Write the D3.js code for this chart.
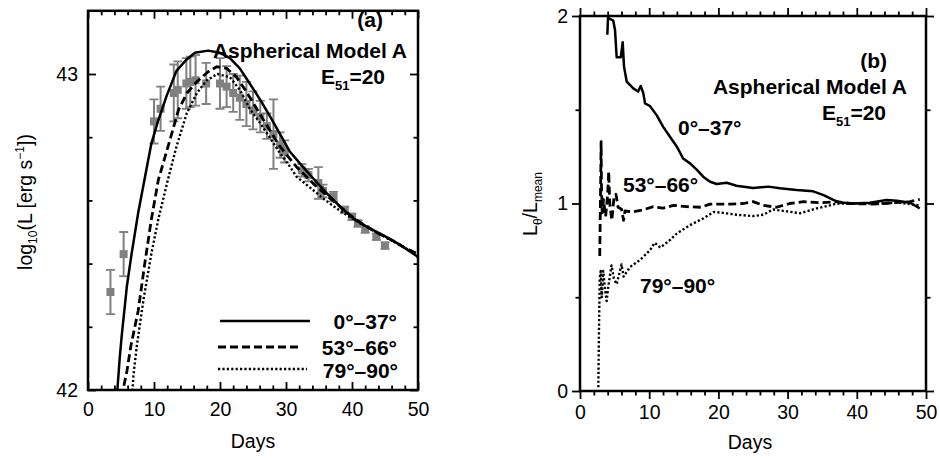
<!DOCTYPE html>
<html><head><meta charset="utf-8">
<script src="https://cdn.jsdelivr.net/npm/d3@7"></script>
<style>body{margin:0;background:#fff}</style>
</head><body><svg id="c" width="940" height="459"></svg>
<script>
// ---------- data ----------
const seriesNames = ["0°–37°", "53°–66°", "79°–90°"];
const xTickLabels = [0, 10, 20, 30, 40, 50];
const yTickLabelsA = [42, 43];
const yTickLabelsB = [0, 1, 2];

// observed light curve (days, log L, error)
const obsDay  = [3.4, 5.4, 10.0, 11.0, 13.0, 13.6, 14.9, 15.5, 16.3, 17.9, 20.0, 21.0, 22.0, 23.0, 24.0, 25.0, 26.1, 27.1, 28.1, 29.1, 29.8, 32.4, 33.4, 34.9, 35.6, 37.2, 38.9, 40.0, 40.9, 42.0, 43.7, 45.0];
const obsLogL = [42.31, 42.43, 42.85, 42.89, 42.94, 42.95, 42.97, 42.975, 42.98, 42.97, 42.97, 42.96, 42.94, 42.925, 42.905, 42.885, 42.865, 42.835, 42.81, 42.775, 42.755, 42.695, 42.68, 42.655, 42.63, 42.612, 42.57, 42.548, 42.527, 42.508, 42.485, 42.457];
const obsErr  = [0.07, 0.07, 0.07, 0.07, 0.09, 0.09, 0.08, 0.08, 0.08, 0.065, 0.08, 0.065, 0.06, 0.07, 0.07, 0.06, 0.05, 0.04, 0.11, 0.04, 0.035, 0.02, 0.02, 0.05, 0.02, 0.015, 0.01, 0.01, 0.01, 0.01, 0.01, 0.01];

// panel (a) model light curves [day, log L]
const lcPole = [[4.45,41.9],[4.45,42.0],[4.8,42.1],[5.1,42.17],[5.9,42.33],[6.6,42.43],[7.6,42.56],[8.6,42.67],[9.6,42.78],[10.6,42.85],[11.9,42.93],[13.4,43.01],[14.9,43.045],[16.2,43.067],[18.2,43.074],[20.0,43.067],[21.5,43.05],[23.0,43.018],[24.5,42.97],[26.1,42.918],[27.6,42.865],[29.1,42.81],[30.6,42.754],[32.1,42.717],[34.1,42.67],[36.2,42.622],[38.2,42.58],[40.2,42.543],[42.2,42.517],[44.7,42.49],[47.3,42.459],[49.8,42.424],[50,42.42]];
const lcMid  = [[5.3,41.9],[5.3,42.0],[5.9,42.06],[6.5,42.14],[7.6,42.25],[8.6,42.40],[9.6,42.54],[10.66,42.665],[12.4,42.79],[13.7,42.886],[15.0,42.94],[16.5,42.976],[18.2,43.007],[19.5,43.023],[21.0,43.018],[22.5,42.99],[24.0,42.944],[26.6,42.854],[29.1,42.77],[31.6,42.706],[34.1,42.654],[36.7,42.606],[38.5,42.575],[40.2,42.545],[42.0,42.52],[44.0,42.495],[46.0,42.475],[48.0,42.45],[50,42.43]];
const lcEq   = [[6.75,41.9],[6.75,42.0],[6.9,42.05],[7.4,42.14],[8.4,42.285],[9.65,42.437],[10.65,42.54],[12.1,42.665],[13.4,42.77],[14.95,42.875],[16.5,42.94],[18.0,42.98],[19.6,43.0],[21.5,42.99],[23.0,42.95],[24.5,42.89],[26.1,42.844],[27.5,42.8],[29.1,42.749],[30.5,42.71],[31.6,42.675],[34.1,42.633],[36.0,42.6],[38.0,42.57],[40.0,42.543],[42.0,42.518],[44.0,42.495],[46.0,42.473],[48.0,42.45],[50,42.43]];

// panel (b) ratio curves [day, L_theta/L_mean]
const ratioPole = [[3.95,1.90],[4.05,1.99],[4.8,1.976],[5.06,1.925],[5.3,1.78],[5.9,1.78],[6.17,1.86],[6.36,1.73],[6.75,1.65],[7.7,1.614],[8.4,1.597],[8.77,1.627],[9.15,1.588],[9.4,1.534],[10.1,1.52],[11.1,1.47],[12.0,1.41],[13.0,1.356],[14.0,1.303],[14.9,1.24],[15.9,1.214],[16.9,1.179],[17.8,1.143],[18.8,1.116],[19.75,1.104],[21.2,1.111],[22.6,1.095],[25.0,1.083],[27.2,1.09],[28.9,1.081],[31.3,1.072],[33.7,1.065],[35.2,1.045],[36.6,1.019],[37.6,1.005],[39.5,1.0],[41.9,1.004],[44.3,1.019],[45.8,1.015],[47.7,1.004],[49.1,0.974]];
const ratioMid  = [[2.85,0.72],[2.95,1.0],[3.05,1.33],[3.1,1.1],[3.2,0.95],[3.4,1.02],[3.7,0.93],[4.0,1.05],[4.15,1.17],[4.3,1.0],[4.6,0.91],[4.9,1.03],[5.2,1.05],[5.5,0.98],[6.0,0.97],[6.3,0.91],[6.5,0.96],[7.5,0.955],[9.0,0.965],[10.6,0.983],[12.0,0.975],[13.5,0.99],[15.4,0.983],[17.5,0.98],[18.8,0.997],[21.7,0.997],[23.6,1.0],[25.0,1.01],[26.5,0.99],[28.4,0.98],[30.3,1.0],[32.3,1.01],[34.7,1.004],[37.1,1.01],[39.0,1.0],[41.9,0.997],[44.0,1.0],[45.3,1.004],[47.7,1.01],[49.1,1.022]];
const ratioEq   = [[2.65,0.02],[2.75,0.35],[2.85,0.6],[3.0,0.64],[3.15,0.5],[3.35,0.64],[3.6,0.55],[3.85,0.48],[4.1,0.56],[4.55,0.67],[4.9,0.6],[5.3,0.57],[6.0,0.675],[6.3,0.61],[7.2,0.66],[8.7,0.70],[10.1,0.75],[10.8,0.79],[11.6,0.765],[13.0,0.805],[14.0,0.84],[15.9,0.885],[17.8,0.92],[19.3,0.955],[20.7,0.95],[22.6,0.94],[25.0,0.933],[26.5,0.94],[27.9,0.968],[29.9,0.958],[31.8,0.948],[34.2,0.974],[36.1,0.99],[37.1,1.0],[40.0,1.0],[43.0,1.0],[46.0,1.005],[49.1,0.99]];

// ---------- drawing ----------
const svg = d3.select("#c");
const FONT = "'Liberation Sans', Arial, Helvetica, sans-serif";
const styles = [
  {w: 2.5, dash: null},
  {w: 2.8, dash: "8,4"},
  {w: 2.4, dash: "2.2,2.2"}
];

const xA = d3.scaleLinear().domain([0, 50]).range([88, 418]);
const yA = d3.scaleLinear().domain([42, 43.2]).range([390, 10.8]);
const xB = d3.scaleLinear().domain([0, 50]).range([580, 926]);
const yB = d3.scaleLinear().domain([0, 2]).range([391, 16]);

const defs = svg.append("defs");
function clip(id, x, y) {
  defs.append("clipPath").attr("id", id).append("rect")
    .attr("x", x.range()[0]).attr("y", y.range()[1])
    .attr("width", x.range()[1] - x.range()[0]).attr("height", y.range()[0] - y.range()[1]);
}
clip("clipA", xA, yA); clip("clipB", xB, yB);

function styleAxis(g) {
  g.select(".domain").remove();
  g.selectAll("line").attr("stroke", "#000").attr("stroke-width", 1.8);
  g.selectAll("text").attr("font-family", FONT).attr("font-size", 19.5).attr("fill", "#000");
}

function axes(x, y, inward, yMajor, yMinor) {
  const s = inward ? -1 : 1;
  const xMinor = d3.range(0, 51, 2).filter(d => d % 10 !== 0);
  const yb = y.range()[0], yt = y.range()[1], xl = x.range()[0], xr = x.range()[1];
  svg.append("g").attr("transform", `translate(0,${yb})`)
    .call(d3.axisBottom(x).tickValues(xTickLabels).tickSize(8 * s).tickPadding(inward ? 12 : 6).tickFormat(d3.format("d")))
    .call(styleAxis);
  svg.append("g").attr("transform", `translate(0,${yb})`)
    .call(d3.axisBottom(x).tickValues(xMinor).tickSize(4.5 * s).tickFormat("")).call(styleAxis);
  svg.append("g").attr("transform", `translate(0,${yt})`)
    .call(d3.axisTop(x).tickValues(xTickLabels).tickSize(8 * s).tickFormat("")).call(styleAxis);
  svg.append("g").attr("transform", `translate(0,${yt})`)
    .call(d3.axisTop(x).tickValues(xMinor).tickSize(4.5 * s).tickFormat("")).call(styleAxis);
  svg.append("g").attr("transform", `translate(${xl},0)`)
    .call(d3.axisLeft(y).tickValues(yMajor).tickSize(8 * s).tickPadding(inward ? 10 : 4).tickFormat(d3.format("d")))
    .call(styleAxis);
  svg.append("g").attr("transform", `translate(${xl},0)`)
    .call(d3.axisLeft(y).tickValues(yMinor).tickSize(4.5 * s).tickFormat("")).call(styleAxis);
  svg.append("g").attr("transform", `translate(${xr},0)`)
    .call(d3.axisRight(y).tickValues(yMajor).tickSize(8 * s).tickFormat("")).call(styleAxis);
  svg.append("g").attr("transform", `translate(${xr},0)`)
    .call(d3.axisRight(y).tickValues(yMinor).tickSize(4.5 * s).tickFormat("")).call(styleAxis);
  svg.append("rect").attr("x", xl).attr("y", yt).attr("width", xr - xl).attr("height", yb - yt)
    .attr("fill", "none").attr("stroke", "#000").attr("stroke-width", 2.5);
}

function curve(x, y, data, st, clipId) {
  const line = d3.line().x(d => x(d[0])).y(d => y(d[1])).curve(d3.curveLinear);
  const p = svg.append("path").datum(data).attr("d", line)
    .attr("fill", "none").attr("stroke", "#000").attr("stroke-width", st.w)
    .attr("stroke-linejoin", "round").attr("clip-path", `url(#${clipId})`);
  if (st.dash) p.attr("stroke-dasharray", st.dash);
}

function boldText(x, y, txt, anchor) {
  return svg.append("text").attr("x", x).attr("y", y).attr("text-anchor", anchor || "start")
    .attr("font-family", FONT).attr("font-weight", "bold").attr("font-size", 21).text(txt);
}
function eText(xRight, y) {
  const t = svg.append("text").attr("x", xRight).attr("y", y).attr("text-anchor", "end")
    .attr("font-family", FONT).attr("font-weight", "bold").attr("font-size", 21);
  t.append("tspan").text("E");
  t.append("tspan").attr("font-size", 13).attr("dy", 6).text("51");
  t.append("tspan").attr("dy", -6).text("=20");
}

// ----- Panel (a) -----
const gObs = svg.append("g").attr("clip-path", "url(#clipA)");
const obs = obsDay.map((d, i) => ({d, v: obsLogL[i], e: obsErr[i]}));
const col = "#808080";
gObs.selectAll("line.eb").data(obs).join("line")
  .attr("x1", o => xA(o.d)).attr("x2", o => xA(o.d))
  .attr("y1", o => yA(o.v - o.e)).attr("y2", o => yA(o.v + o.e))
  .attr("stroke", col).attr("stroke-width", 2);
[-1, 1].forEach(sg => {
  gObs.selectAll(null).data(obs).join("line")
    .attr("x1", o => xA(o.d) - 4.5).attr("x2", o => xA(o.d) + 4.5)
    .attr("y1", o => yA(o.v + sg * o.e)).attr("y2", o => yA(o.v + sg * o.e))
    .attr("stroke", col).attr("stroke-width", 1.8);
});
gObs.selectAll("rect").data(obs).join("rect")
  .attr("x", o => xA(o.d) - 4).attr("y", o => yA(o.v) - 4)
  .attr("width", 8).attr("height", 8).attr("fill", col);

[lcPole, lcMid, lcEq].forEach((s, i) => curve(xA, yA, s, styles[i], "clipA"));
axes(xA, yA, true, yTickLabelsA, [42.2, 42.4, 42.6, 42.8]);

boldText(383, 27, "(a)", "end");
boldText(407, 58, "Aspherical Model A", "end");
eText(385, 84);

// legend
const legY = [321, 347, 369];
const legX1 = [220, 218, 218], legX2 = [310, 302, 307];
const legTX = [397, 397, 398], legTY = [329, 355, 378];
seriesNames.forEach((n, i) => {
  const l = svg.append("line").attr("x1", legX1[i]).attr("x2", legX2[i]).attr("y1", legY[i]).attr("y2", legY[i])
    .attr("stroke", "#000").attr("stroke-width", styles[i].w);
  if (styles[i].dash) l.attr("stroke-dasharray", styles[i].dash);
  boldText(legTX[i], legTY[i], n, "end");
});

svg.append("text").attr("x", 253).attr("y", 448).attr("text-anchor", "middle")
  .attr("font-family", FONT).attr("font-size", 19.5).text("Days");
const ya = svg.append("text").attr("transform", "translate(32,202) rotate(-90)").attr("text-anchor", "middle")
  .attr("font-family", FONT).attr("font-size", 19.5);
ya.append("tspan").text("log");
ya.append("tspan").attr("font-size", 12).attr("dy", 5).text("10");
ya.append("tspan").attr("dy", -5).text("(L [erg s");
ya.append("tspan").attr("font-size", 12).attr("dy", -8).text("−1");
ya.append("tspan").attr("dy", 8).text("])");

// ----- Panel (b) -----
[ratioPole, ratioMid, ratioEq].forEach((s, i) => curve(xB, yB, s, styles[i], "clipB"));
axes(xB, yB, false, yTickLabelsB, [0.5, 1.5]);

boldText(887, 68, "(b)", "end");
boldText(907, 94, "Aspherical Model A", "end");
eText(886, 120);
boldText(678, 135, seriesNames[0], "start");
boldText(623, 192, seriesNames[1], "start");
boldText(640, 293, seriesNames[2], "start");

svg.append("text").attr("x", 750).attr("y", 449).attr("text-anchor", "middle")
  .attr("font-family", FONT).attr("font-size", 19.5).text("Days");
const yb = svg.append("text").attr("transform", "translate(537,204) rotate(-90)").attr("text-anchor", "middle")
  .attr("font-family", FONT).attr("font-size", 19.5);
yb.append("tspan").text("L");
yb.append("tspan").attr("font-size", 12).attr("dy", 5).text("θ");
yb.append("tspan").attr("dy", -5).text("/L");
yb.append("tspan").attr("font-size", 12).attr("dy", 5).text("mean");
</script></body></html>
